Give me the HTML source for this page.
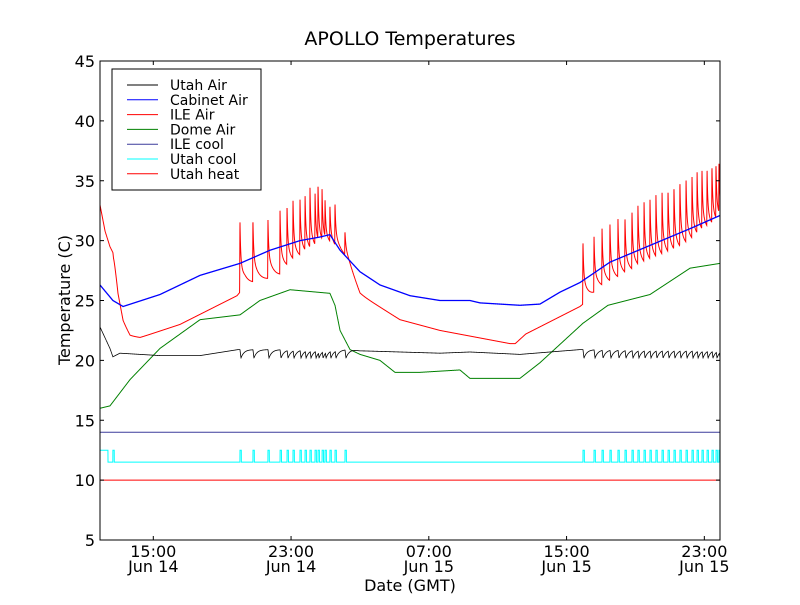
<!DOCTYPE html>
<html><head><meta charset="utf-8"><style>
body{margin:0;background:#fff;font-family:"Liberation Sans","DejaVu Sans",sans-serif}
</style></head><body>
<svg id="chart" width="800" height="600" xmlns="http://www.w3.org/2000/svg" font-family="DejaVu Sans, Liberation Sans, sans-serif">
<rect x="0" y="0" width="800" height="600" fill="#fff"/>
<text x="410" y="45" font-size="19" text-anchor="middle">APOLLO Temperatures</text>
<text transform="translate(70,300) rotate(-90)" font-size="16" text-anchor="middle">Temperature (C)</text>
<text x="410" y="591" font-size="16" text-anchor="middle">Date (GMT)</text>
<g id="series"></g>
<g id="axes"></g>
<g id="legend"></g>
</svg>
<script>
// hours since Jun 14 00:00
const xDomain=[11.905,47.91];
const yDomain=[5,45];
const yTicks=[5,10,15,20,25,30,35,40,45];
const xTickHours=[15,23,31,39,47];
const xTickTimes=["15:00","23:00","07:00","15:00","23:00"];
const xTickDates=["Jun 14","Jun 14","Jun 15","Jun 15","Jun 15"];
const seriesNames=["Utah Air","Cabinet Air","ILE Air","Dome Air","ILE cool","Utah cool","Utah heat"];
const cabinetT=[11.903,12.655,13.245,15.389,17.716,20.033,21.781,23.519,24.678,25.257,25.846,27.005,28.163,29.911,31.649,33.387,33.976,36.293,37.452,38.621,39.779,41.517,43.845,46.172,47.91];
const cabinetV=[26.3,25.0,24.5,25.5,27.1,28.1,29.2,30.0,30.3,30.5,29.2,27.4,26.3,25.4,25.0,25.0,24.8,24.6,24.7,25.7,26.5,28.2,29.6,31.0,32.1];
const ileBaseT=[11.903,12.198,12.483,12.655,12.95,13.245,13.651,14.231,16.548,19.86,20.328,22.36,23.519,25.257,26.161,27.005,29.322,31.649,35.714,36.019,36.629,39.779,40.795,43.132,45.47,47.91];
const ileBaseV=[33,30.8,29.5,29,25,23,22,21.9,23,25.4,26.2,27,28.2,29.2,28.5,25.5,23.4,22.5,21.4,21.4,22.2,24.5,25.7,27.3,28.6,31];
const ileSpikeT=[12.655,20.033,20.786,21.659,22.36,22.766,23.113,23.519,23.814,24.099,24.394,24.566,24.8,24.973,25.257,25.552,26.131,39.952,40.594,41.06,41.518,41.985,42.392,42.798,43.144,43.5,43.844,44.19,44.545,44.891,45.236,45.582,45.938,46.284,46.579,46.863,47.158,47.442,47.676,47.849];
const ileSpikeV=[28.5,31.7,31.8,31.8,32.5,33,33.5,33.5,33.8,34.5,34,34.8,34.3,33.5,33,33.2,30.8,30,30.4,31,31.5,31.8,32,32.5,33,33.2,33.5,33.8,34,34.3,34.6,35,35.2,35.4,35.8,36,36,36.3,36.5,36.5];
const domeT=[11.903,12.483,13.651,15.389,17.716,20.033,21.192,22.94,25.257,25.552,25.846,26.426,27.005,28.163,29.037,30.49,32.807,33.387,36.293,37.452,39.952,41.405,43.845,46.172,47.91];
const domeV=[16.0,16.2,18.4,21.0,23.4,23.8,25.0,25.9,25.6,24.6,22.5,20.9,20.5,20.0,19.0,19.0,19.2,18.5,18.5,19.8,23.1,24.6,25.5,27.7,28.1];
const utahAirT=[11.903,12.483,12.655,13.062,15.389,17.716,19.921,26.568,27.005,31.649,33.387,36.293,39.779,47.91];
const utahAirV=[22.8,21.0,20.3,20.6,20.4,20.4,20.9,20.9,20.8,20.6,20.7,20.5,20.9,20.9];
const ileCoolV=14.0, utahHeatV=10.0, utahCoolLow=11.5, utahCoolHigh=12.5;

const X0=100,X1=720,Y0=540,Y1=61;
const xs=h=>X0+(h-xDomain[0])/(xDomain[1]-xDomain[0])*(X1-X0);
const ys=v=>Y0-(v-yDomain[0])/(yDomain[1]-yDomain[0])*(Y0-Y1);
const NS="http://www.w3.org/2000/svg";
function interp(T,V,h){if(h<=T[0])return V[0];for(let i=1;i<T.length;i++){if(h<=T[i]){const f=(h-T[i-1])/(T[i]-T[i-1]);return V[i-1]+f*(V[i]-V[i-1]);}}return V[V.length-1];}
const step=0.005;const H=[];for(let h=xDomain[0];h<=xDomain[1]+1e-9;h+=step)H.push(h);
function ileAir(h){const b=interp(ileBaseT,ileBaseV,h);let best=b;for(let i=0;i<ileSpikeT.length;i++){const d=h-ileSpikeT[i];let f=0;if(d>=-0.02&&d<0)f=(d+0.02)/0.02;else if(d>=0)f=0.55*Math.exp(-d/0.04)+0.45*Math.exp(-d/0.3);const v=b+(ileSpikeV[i]-b)*f;if(v>best)best=v;}return best;}
function utahAir(h){const b=interp(utahAirT,utahAirV,h);let dip=0;for(let i=1;i<ileSpikeT.length;i++){const d=h-ileSpikeT[i];let f=0;if(d>=0&&d<0.06)f=d/0.06;else if(d>=0.06)f=Math.exp(-(d-0.06)/0.18);if(f>dip)dip=f;}return b-0.7*dip;}
function utahCool(h){if(h<12.37)return utahCoolHigh;for(const s of ileSpikeT){if(h>=s&&h<s+0.08)return utahCoolHigh;}return utahCoolLow;}
function path(fn,color,name,w){const g=document.getElementById('series');const p=document.createElementNS(NS,'path');let d='';H.forEach((h,i)=>{d+=(i?'L':'M')+xs(h).toFixed(2)+','+ys(fn(h)).toFixed(2);});p.setAttribute('d',d);p.setAttribute('fill','none');p.setAttribute('stroke',color);p.setAttribute('stroke-width',w||1);


g.appendChild(p);}
path(h=>utahHeatV,'#ff0000','utah-heat-line');
path(utahCool,'#00ffff','utah-cool-line');
path(h=>ileCoolV,'#3b3b9c','ile-cool-line');
path(h=>interp(domeT,domeV,h),'#008000','dome-air-line');
path(ileAir,'#ff0000','ile-air-line');
path(h=>interp(cabinetT,cabinetV,h),'#0000ff','cabinet-air-line',1.3);
path(utahAir,'#000000','utah-air-line',0.8);

const ax=document.getElementById('axes');
function el(tag,attrs,parent){const e=document.createElementNS(NS,tag);for(const k in attrs)e.setAttribute(k,attrs[k]);(parent||ax).appendChild(e);return e;}
el('rect',{x:X0,y:Y1,width:X1-X0,height:Y0-Y1,fill:'none',stroke:'#000','stroke-width':1});
yTicks.forEach(v=>{const y=ys(v);el('line',{x1:X0,y1:y,x2:X0+4,y2:y,stroke:'#000'});el('line',{x1:X1,y1:y,x2:X1-4,y2:y,stroke:'#000'});
const t=el('text',{x:X0-5,y:y+6,'font-size':16,'text-anchor':'end'});t.textContent=v;

});
xTickHours.forEach((h,i)=>{const x=xs(h);el('line',{x1:x,y1:Y0,x2:x,y2:Y0-4,stroke:'#000'});el('line',{x1:x,y1:Y1,x2:x,y2:Y1+4,stroke:'#000'});
const t=el('text',{x:x,y:557,'font-size':16,'text-anchor':'middle'});t.textContent=xTickTimes[i];


const t2=el('text',{x:x,y:572,'font-size':16,'text-anchor':'middle'});t2.textContent=xTickDates[i];

});
const lg=document.getElementById('legend');
el('rect',{x:112,y:69,width:149,height:121,fill:'#fff',stroke:'#000'},lg);
const colors=['#000000','#0000ff','#ff0000','#008000','#3b3b9c','#00ffff','#ff0000'];
seriesNames.forEach((n,i)=>{const y=85+i*14.8;const g=el('g',{},lg);


el('line',{x1:127,y1:y,x2:158,y2:y,stroke:colors[i]},g);const t=el('text',{x:170,y:y+5,'font-size':14},g);t.textContent=n;});
</script>
</body></html>
